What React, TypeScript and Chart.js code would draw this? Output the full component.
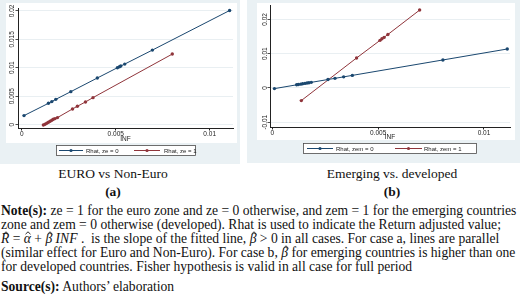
import React, { useEffect, useRef } from "react";
import { Chart, registerables } from "chart.js";

Chart.register(...registerables);

// Panel (a): fitted returns against inflation, non-euro (ze = 0) and euro zone (ze = 1)
const infZe0 = [0.00012, 0.00142, 0.0016, 0.00181, 0.00261, 0.00402, 0.00509, 0.0052, 0.00527, 0.00548, 0.00695, 0.01106];
const rhatZe0 = [0.00158, 0.00374, 0.00404, 0.00444, 0.00579, 0.00819, 0.01, 0.01018, 0.0103, 0.01064, 0.0131, 0.02006];
const infZe1 = [0.00115, 0.00124, 0.00133, 0.00142, 0.00151, 0.0016, 0.00168, 0.00177, 0.0019, 0.0027, 0.00296, 0.00339, 0.00379, 0.00801];
const rhatZe1 = [-0.00006, 0.00006, 0.00024, 0.00041, 0.00058, 0.00076, 0.00094, 0.00105, 0.00123, 0.00275, 0.00322, 0.00398, 0.00474, 0.0124];

// Panel (b): developed (zem = 0) and emerging (zem = 1)
const infZem0 = [0.0001, 0.00115, 0.00123, 0.00134, 0.00143, 0.00154, 0.00164, 0.00173, 0.00184, 0.00263, 0.00296, 0.00337, 0.00378, 0.00806, 0.0111];
const rhatZem0 = [-0.0002, 0.00091, 0.00099, 0.00111, 0.0012, 0.00132, 0.00142, 0.00152, 0.00163, 0.00246, 0.0028, 0.00323, 0.00366, 0.00816, 0.01136];
const infZem1 = [0.00137, 0.00398, 0.00509, 0.00518, 0.00528, 0.00546, 0.00696];
const rhatZem1 = [-0.00369, 0.00874, 0.01388, 0.01437, 0.01475, 0.0156, 0.02272];

const xTicksA = [0, 0.005, 0.01];
const xTickLabelsA = ["0", "0.005", "0.01"];
const yTicksA = [0, 0.005, 0.01, 0.015, 0.02];
const yTickLabelsA = ["0", "0.005", "0.01", "0.015", "0.02"];

const xTicksB = [0, 0.005, 0.01];
const xTickLabelsB = ["0", "0.005", "0.01"];
const yTicksB = [-0.01, 0, 0.01, 0.02];
const yTickLabelsB = ["-0.01", "0", "0.01", "0.02"];

const legendA = ["Rhat, ze = 0", "Rhat, ze = 1"];
const legendB = ["Rhat, zem = 0", "Rhat, zem = 1"];

const NAVY = "#1a476f";
const MAROON = "#90353b";
const PANEL_BG = "#eaf1f4";
const GRID = "#e3ebef";
const INK = "#222222";
const TICK_FONT = '6.5px "Liberation Sans", Arial, sans-serif';
const LEGEND_FONT = '6px "Liberation Sans", Arial, sans-serif';

type Rect = { x: number; y: number; w: number; h: number };

type PanelSpec = {
  left: number;
  width: number;
  height: number;
  area: { left: number; top: number; right: number; bottom: number };
  plate: Rect;
  legendBox: Rect;
  legendSlots: { lineFrom: number; lineTo: number; textX: number }[];
  legendLabels: string[];
  yLabelX: number;
  titleY: number;
  xRange: [number, number];
  yRange: [number, number];
  xTicks: number[];
  xTickLabels: string[];
  yTicks: number[];
  yTickLabels: string[];
  series: { x: number[]; y: number[]; color: string }[];
};

const panelA: PanelSpec = {
  left: 0,
  width: 240,
  height: 164,
  area: { left: 18, top: 8, right: 233, bottom: 128 },
  plate: { x: 6, y: 3, w: 231, h: 140 },
  legendBox: { x: 56, y: 145, w: 140, h: 11 },
  legendSlots: [
    { lineFrom: 59, lineTo: 83, textX: 86 },
    { lineFrom: 134, lineTo: 160, textX: 164 },
  ],
  legendLabels: legendA,
  yLabelX: 12,
  titleY: 139,
  xRange: [-0.0002, 0.01124],
  yRange: [-0.0006, 0.0205],
  xTicks: xTicksA,
  xTickLabels: xTickLabelsA,
  yTicks: yTicksA,
  yTickLabels: yTickLabelsA,
  series: [
    { x: infZe0, y: rhatZe0, color: NAVY },
    { x: infZe1, y: rhatZe1, color: MAROON },
  ],
};

const panelB: PanelSpec = {
  left: 247,
  width: 273,
  height: 163,
  area: { left: 23, top: 5, right: 263, bottom: 127 },
  plate: { x: 10, y: 3, w: 258, h: 137 },
  legendBox: { x: 56, y: 143, w: 174, h: 11 },
  legendSlots: [
    { lineFrom: 60, lineTo: 86, textX: 89 },
    { lineFrom: 148, lineTo: 175, textX: 177 },
  ],
  legendLabels: legendB,
  yLabelX: 18,
  titleY: 137,
  xRange: [-0.00011, 0.01123],
  yRange: [-0.0114, 0.0242],
  xTicks: xTicksB,
  xTickLabels: xTickLabelsB,
  yTicks: yTicksB,
  yTickLabels: yTickLabelsB,
  series: [
    { x: infZem0, y: rhatZem0, color: NAVY },
    { x: infZem1, y: rhatZem1, color: MAROON },
  ],
};

function decorPlugin(p: PanelSpec) {
  return {
    id: "panelDecor",
    beforeDraw(chart: any) {
      const ctx = chart.ctx as CanvasRenderingContext2D;
      ctx.save();
      ctx.fillStyle = PANEL_BG;
      ctx.fillRect(0, 0, chart.width, chart.height);
      ctx.fillStyle = "#ffffff";
      ctx.fillRect(p.plate.x, p.plate.y, p.plate.w, p.plate.h);
      ctx.restore();
    },
    afterDraw(chart: any) {
      const ctx = chart.ctx as CanvasRenderingContext2D;
      const ys = chart.scales.y;
      const ca = chart.chartArea;
      ctx.save();
      ctx.font = TICK_FONT;
      ctx.fillStyle = INK;
      ctx.textAlign = "center";
      ctx.textBaseline = "middle";
      // vertical axis labels, reading upward
      p.yTicks.forEach((v, i) => {
        const y = ys.getPixelForValue(v);
        ctx.save();
        ctx.translate(p.yLabelX, y);
        ctx.rotate(-Math.PI / 2);
        ctx.fillText(p.yTickLabels[i], 0, 0);
        ctx.restore();
      });
      // horizontal axis title
      ctx.fillText("INF", (ca.left + ca.right) / 2, p.titleY);

      // legend box
      const b = p.legendBox;
      ctx.fillStyle = "#ffffff";
      ctx.fillRect(b.x, b.y, b.w, b.h);
      ctx.strokeStyle = "#4a4a4a";
      ctx.lineWidth = 0.8;
      ctx.strokeRect(b.x + 0.5, b.y + 0.5, b.w - 1, b.h - 1);
      const cy = b.y + b.h / 2;
      ctx.font = LEGEND_FONT;
      p.legendSlots.forEach((s, i) => {
        const color = p.series[i].color;
        ctx.strokeStyle = color;
        ctx.lineWidth = 1;
        ctx.beginPath();
        ctx.moveTo(s.lineFrom, cy);
        ctx.lineTo(s.lineTo, cy);
        ctx.stroke();
        ctx.fillStyle = color;
        ctx.beginPath();
        ctx.arc((s.lineFrom + s.lineTo) / 2, cy, 1.6, 0, Math.PI * 2);
        ctx.fill();
        ctx.fillStyle = INK;
        ctx.textAlign = "left";
        ctx.fillText(p.legendLabels[i], s.textX, cy + 0.5);
      });
      ctx.restore();
    },
  };
}

function buildConfig(p: PanelSpec): any {
  return {
    type: "scatter",
    data: {
      datasets: p.series.map((s) => ({
        data: s.x.map((x, i) => ({ x, y: s.y[i] })),
        showLine: true,
        borderColor: s.color,
        backgroundColor: s.color,
        borderWidth: 1,
        pointRadius: 1.7,
        pointBorderWidth: 0,
        pointHoverRadius: 1.7,
      })),
    },
    options: {
      animation: false,
      responsive: false,
      devicePixelRatio: 1,
      events: [],
      layout: {
        padding: { left: 0, top: p.area.top, right: p.width - p.area.right, bottom: 0 },
      },
      plugins: { legend: { display: false }, tooltip: { enabled: false } },
      scales: {
        x: {
          type: "linear",
          min: p.xRange[0],
          max: p.xRange[1],
          afterBuildTicks: (scale: any) => {
            scale.ticks = p.xTicks.map((v) => ({ value: v }));
          },
          afterFit: (scale: any) => {
            scale.height = p.height - p.area.bottom;
          },
          ticks: {
            font: { family: '"Liberation Sans", Arial, sans-serif', size: 6.5 },
            color: INK,
            padding: 0,
            maxRotation: 0,
            minRotation: 0,
            callback: (v: number) => p.xTickLabels[p.xTicks.indexOf(v)],
          },
          grid: { drawOnChartArea: false, drawTicks: true, tickLength: 2.5, tickColor: INK },
          border: { display: true, color: INK, width: 1 },
        },
        y: {
          type: "linear",
          min: p.yRange[0],
          max: p.yRange[1],
          afterBuildTicks: (scale: any) => {
            scale.ticks = p.yTicks.map((v) => ({ value: v }));
          },
          afterFit: (scale: any) => {
            scale.width = p.area.left;
          },
          ticks: { display: false },
          grid: { color: GRID, lineWidth: 0.8, drawTicks: true, tickLength: 2.5, tickColor: INK },
          border: { display: true, color: INK, width: 1 },
        },
      },
    },
    plugins: [decorPlugin(p)],
  };
}

function PanelChart({ spec }: { spec: PanelSpec }) {
  const ref = useRef<HTMLCanvasElement>(null);
  useEffect(() => {
    if (!ref.current) return;
    const chart = new Chart(ref.current, buildConfig(spec));
    return () => chart.destroy();
  }, [spec]);
  return (
    <canvas
      ref={ref}
      width={spec.width}
      height={spec.height}
      style={{ position: "absolute", left: spec.left, top: 0, width: spec.width, height: spec.height }}
    />
  );
}

const serif = '"Liberation Serif", "Times New Roman", serif';

// Italic symbol with a small circumflex stroked above it (estimator notation)
function Hat({ ch }: { ch: string }) {
  return (
    <span style={{ position: "relative", display: "inline-block", fontStyle: "italic" }}>
      {ch}
      <svg
        width={6}
        height={4}
        viewBox="0 0 6 4"
        style={{ position: "absolute", left: "50%", marginLeft: -2, top: -1.5, overflow: "visible" }}
      >
        <polyline points="0.5,3.2 3,0.8 5.5,3.2" fill="none" stroke="#111" strokeWidth={0.9} />
      </svg>
    </span>
  );
}

const lineStyle = (top: number): React.CSSProperties => ({
  position: "absolute",
  left: 1,
  top,
  whiteSpace: "nowrap",
  fontFamily: serif,
  fontSize: 13.6,
  lineHeight: "14px",
  color: "#111",
});

const captionStyle = (left: number, width: number, top: number, bold = false): React.CSSProperties => ({
  position: "absolute",
  left,
  width,
  top,
  textAlign: "center",
  fontFamily: serif,
  fontSize: 13.5,
  lineHeight: "14px",
  fontWeight: bold ? "bold" : "normal",
  color: "#111",
  whiteSpace: "nowrap",
});

export default function App() {
  return (
    <div
      style={{
        position: "absolute",
        left: 0,
        top: 0,
        width: 520,
        height: 304,
        background: "#ffffff",
        overflow: "hidden",
      }}
    >
      <PanelChart spec={panelA} />
      <PanelChart spec={panelB} />

      <div style={captionStyle(0, 226, 167)}>EURO vs Non-Euro</div>
      <div style={captionStyle(0, 226, 185, true)}>(a)</div>
      <div style={captionStyle(262, 260, 167)}>Emerging vs. developed</div>
      <div style={captionStyle(262, 260, 185, true)}>(b)</div>

      <div style={lineStyle(204)}>
        <b>Note(s):</b> ze = 1 for the euro zone and ze = 0 otherwise, and zem = 1 for the emerging countries
      </div>
      <div style={lineStyle(218)}>
        zone and zem = 0 otherwise (developed). Rhat is used to indicate the Return adjusted value;
      </div>
      <div style={lineStyle(232)}>
        <Hat ch="R" /> = <Hat ch="α" /> + <Hat ch="β" /> <i>INF</i> .&nbsp; is the slope of the fitted line, <Hat ch="β" /> &gt; 0 in all cases. For case a, lines are parallel
      </div>
      <div style={lineStyle(246)}>
        (similar effect for Euro and Non-Euro). For case b, <Hat ch="β" /> for emerging countries is higher than one
      </div>
      <div style={lineStyle(260)}>
        for developed countries. Fisher hypothesis is valid in all case for full period
      </div>
      <div style={lineStyle(280)}>
        <b>Source(s):</b> Authors&rsquo; elaboration
      </div>
    </div>
  );
}
